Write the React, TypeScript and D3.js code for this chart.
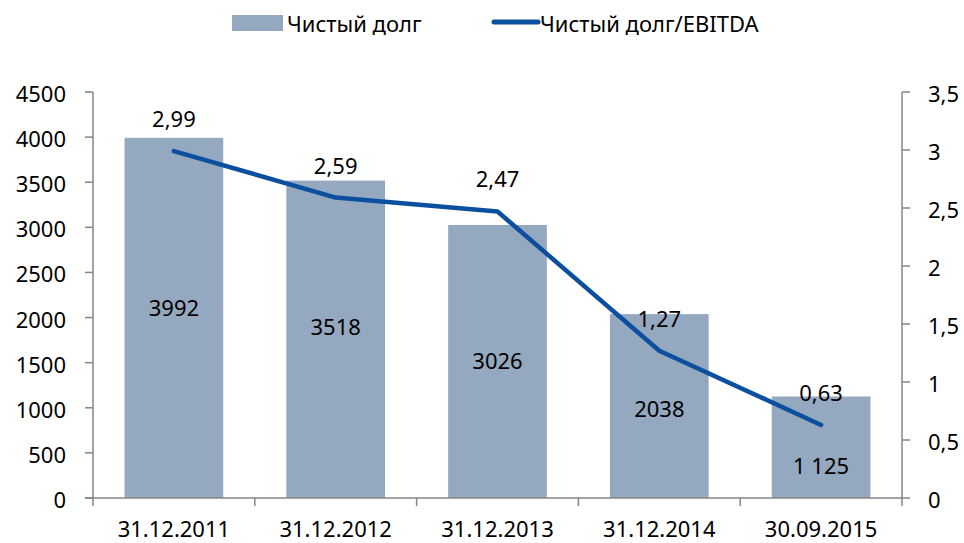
import React from "react";
import * as d3 from "d3";

const categories = ["31.12.2011", "31.12.2012", "31.12.2013", "31.12.2014", "30.09.2015"];
const netDebt = [3992, 3518, 3026, 2038, 1125];
const netDebtLabels = ["3992", "3518", "3026", "2038", "1 125"];
const ratio = [2.99, 2.59, 2.47, 1.27, 0.63];
const leftTicks = [0, 500, 1000, 1500, 2000, 2500, 3000, 3500, 4000, 4500];
const rightTicks = [0, 0.5, 1, 1.5, 2, 2.5, 3, 3.5];
const barLabelShift = [-11, -13, -1, 2, 18];

const W = 964, H = 543;
const M = { left: 93, right: 902, top: 92, bottom: 498 };
const FONT = "'Noto Sans', 'Open Sans', sans-serif";
const BAR = "#94a8bf";
const LINE = "#0b4f9e";
const AXIS = "#868686";

export default function App() {
  const x = d3.scaleBand<string>().domain(categories).range([M.left, M.right]).paddingInner(0.39).paddingOuter(0.195);
  const xb = d3.scaleBand<string>().domain(categories).range([M.left, M.right]);
  const yL = d3.scaleLinear().domain([0, 4500]).range([M.bottom, M.top]);
  const yR = d3.scaleLinear().domain([0, 3.5]).range([M.bottom, M.top]);
  const cx = (c: string) => (xb(c) as number) + xb.bandwidth() / 2;
  const line = d3.line<number>().x((_, i) => cx(categories[i])).y((d) => yR(d));
  const fmtR = (v: number) => String(v).replace(".", ",");
  const fs = 22;

  return (
    <svg width={W} height={H} style={{ position: "absolute", left: 0, top: 0, background: "#fff" }} fontFamily={FONT}>
      {/* legend */}
      <rect x={232} y={15} width={51} height={16} fill={BAR} />
      <text x={287} y={23} fontSize={fs} dominantBaseline="central" fill="#000">Чистый долг</text>
      <line x1={494} x2={538} y1={22} y2={22} stroke={LINE} strokeWidth={5} strokeLinecap="round" />
      <text x={540} y={23} fontSize={fs} dominantBaseline="central" fill="#000">Чистый долг/EBITDA</text>

      {/* bars */}
      {categories.map((c, i) => (
        <rect key={c} x={x(c)} y={yL(netDebt[i])} width={x.bandwidth()} height={yL(0) - yL(netDebt[i])} fill={BAR} />
      ))}

      {/* left axis */}
      <line x1={M.left} x2={M.left} y1={M.top} y2={M.bottom} stroke={AXIS} strokeWidth={1.5} />
      {leftTicks.map((t) => (
        <g key={t}>
          <line x1={M.left - 8} x2={M.left} y1={yL(t)} y2={yL(t)} stroke={AXIS} strokeWidth={1.5} />
          <text x={66} y={yL(t) + 1} fontSize={fs} textAnchor="end" dominantBaseline="central" fill="#000">{t}</text>
        </g>
      ))}

      {/* right axis */}
      <line x1={M.right} x2={M.right} y1={M.top} y2={M.bottom} stroke={AXIS} strokeWidth={1.5} />
      {rightTicks.map((t) => (
        <g key={t}>
          <line x1={M.right} x2={M.right + 8} y1={yR(t)} y2={yR(t)} stroke={AXIS} strokeWidth={1.5} />
          <text x={928} y={yR(t) + 1} fontSize={fs} textAnchor="start" dominantBaseline="central" fill="#000">{fmtR(t)}</text>
        </g>
      ))}

      {/* x axis */}
      <line x1={M.left - 8} x2={M.right} y1={M.bottom} y2={M.bottom} stroke={AXIS} strokeWidth={1.5} />
      {[...categories.map((c) => xb(c) as number), M.right].map((p, i) => (
        <line key={i} x1={p} x2={p} y1={M.bottom} y2={M.bottom + 8} stroke={AXIS} strokeWidth={1.5} />
      ))}
      {categories.map((c) => (
        <text key={c} x={cx(c)} y={528} fontSize={fs} textAnchor="middle" dominantBaseline="central" fill="#000">{c}</text>
      ))}

      {/* bar labels */}
      {categories.map((c, i) => (
        <text key={c} x={cx(c)} y={(yL(netDebt[i]) + yL(0)) / 2 + barLabelShift[i]} fontSize={fs} textAnchor="middle" dominantBaseline="central" fill="#000">
          {netDebtLabels[i]}
        </text>
      ))}

      {/* line */}
      <path d={line(ratio) as string} fill="none" stroke={LINE} strokeWidth={4.5} strokeLinecap="round" strokeLinejoin="round" />
      {categories.map((c, i) => (
        <text key={c} x={cx(c)} y={yR(ratio[i]) - 33} fontSize={fs} textAnchor="middle" dominantBaseline="central" fill="#000">
          {fmtR(ratio[i])}
        </text>
      ))}
    </svg>
  );
}
